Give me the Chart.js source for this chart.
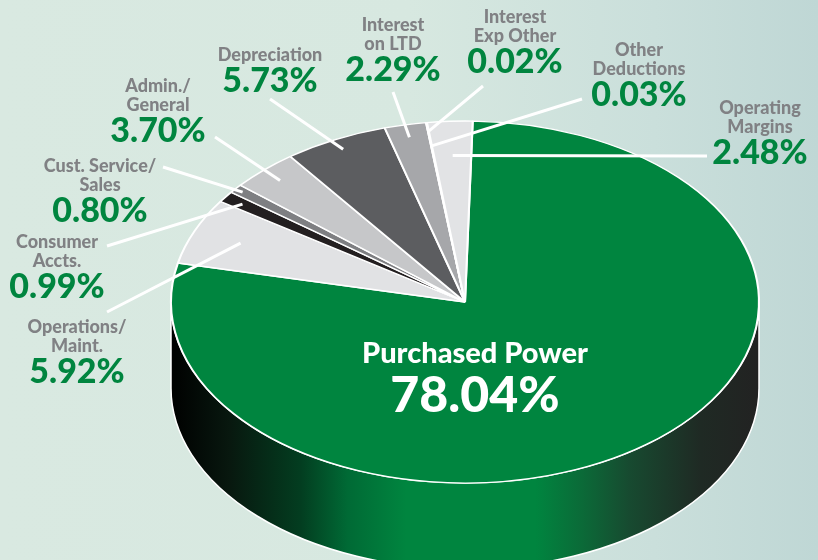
<!DOCTYPE html>
<html>
<head>
<meta charset="utf-8">
<title>Expense breakdown</title>
<script src="https://cdn.jsdelivr.net/npm/chart.js@4.4.0/dist/chart.umd.min.js"></script>
<style>
	html, body { margin: 0; padding: 0; }
	body {
		width: 818px;
		height: 560px;
		overflow: hidden;
		background: linear-gradient(90deg, #d9e9e1 0%, #d7e8e0 50%, #cadfdb 80%, #bfd7d5 100%);
	}
	#wrap { width: 818px; height: 560px; }
</style>
</head>
<body>
<div id="wrap"><canvas id="pie" width="818" height="560"></canvas></div>
<script>
/* Data */
var categories = [
	["Purchased Power"],
	["Operations/", "Maint."],
	["Consumer", "Accts."],
	["Cust. Service/", "Sales"],
	["Admin./", "General"],
	["Depreciation"],
	["Interest", "on LTD"],
	["Interest", "Exp Other"],
	["Other", "Deductions"],
	["Operating", "Margins"]
];
var values = [78.04, 5.92, 0.99, 0.80, 3.70, 5.73, 2.29, 0.02, 0.03, 2.48];
var sliceColors = ['#00853f', '#e1e2e4', '#231f20', '#7e7f82', '#c6c7c9',
	'#5c5d60', '#a6a7aa', '#8a8b8e', '#9d9ea1', '#e2e3e5'];

/* Layout of the tilted pie and its labels */
var tilt = { cx: 465, cy: 302, rx: 294, ry: 181, depth: 86 };
// x, first baseline, leader start x/y, how far into the slice the leader goes
var labelPos = [
	null,
	[77, 333, 107, 312, 0.83],
	[57, 248, 107, 246, 0.93],
	[100, 172, 163, 167, 0.97],
	[158, 92, 215, 137, 0.92],
	[270, 61, 270, 99, 0.94],
	[393, 31, 393, 92, 0.93],
	[515, 23, 483, 86, 0.95],
	[639, 56, 582, 99, 0.87],
	[760, 114, 707, 156, 0.81]
];

var GREEN = '#00853f';
var GRAY = '#808184';

function sideGradient(ctx, color) {
	var g = ctx.createLinearGradient(tilt.cx - tilt.rx, 0, tilt.cx + tilt.rx, 0);
	g.addColorStop(0, '#000000');
	g.addColorStop(0.10, '#08180f');
	g.addColorStop(0.22, '#033d20');
	g.addColorStop(0.30, '#006a35');
	g.addColorStop(0.40, color);
	g.addColorStop(0.62, color);
	g.addColorStop(0.70, '#0b6a38');
	g.addColorStop(0.78, '#174a30');
	g.addColorStop(0.90, '#1f2a24');
	g.addColorStop(1, '#222222');
	return g;
}

function drawSide(chart) {
	var ctx = chart.ctx;
	var arcs = chart.getDatasetMeta(0).data;
	ctx.save();
	for (var i = 0; i < arcs.length; i++) {
		var s = arcs[i].startAngle;
		var e = arcs[i].endAngle;
		for (var k = -1; k <= 1; k++) {
			var a0 = Math.max(s + k * 2 * Math.PI, 0);
			var a1 = Math.min(e + k * 2 * Math.PI, Math.PI);
			if (a1 <= a0) continue;
			ctx.beginPath();
			ctx.ellipse(tilt.cx, tilt.cy, tilt.rx, tilt.ry, 0, a0, a1, false);
			ctx.ellipse(tilt.cx, tilt.cy + tilt.depth, tilt.rx, tilt.ry, 0, a1, a0, true);
			ctx.closePath();
			ctx.fillStyle = sideGradient(ctx, sliceColors[i]);
			ctx.fill();
			ctx.lineWidth = 1.5;
			ctx.strokeStyle = '#ffffff';
			ctx.stroke();
		}
	}
	ctx.restore();
}

function drawLabels(chart) {
	var ctx = chart.ctx;
	var arcs = chart.getDatasetMeta(0).data;
	ctx.save();
	ctx.textAlign = 'center';
	ctx.textBaseline = 'alphabetic';

	for (var i = 1; i < arcs.length; i++) {
		var p = labelPos[i];
		var mid = (arcs[i].startAngle + arcs[i].endAngle) / 2;
		var ex = tilt.cx + Math.cos(mid) * p[4] * tilt.rx;
		var ey = tilt.cy + Math.sin(mid) * p[4] * tilt.ry;

		ctx.beginPath();
		ctx.moveTo(p[2], p[3]);
		ctx.lineTo(ex, ey);
		ctx.lineWidth = 3;
		ctx.strokeStyle = '#ffffff';
		ctx.stroke();

		var lines = categories[i];
		var y = p[1];
		ctx.fillStyle = GRAY;
		ctx.font = '900 18px Lato';
		for (var j = 0; j < lines.length; j++) {
			ctx.fillText(lines[j], p[0], y);
			if (j < lines.length - 1) y += 19;
		}
		ctx.fillStyle = GREEN;
		ctx.font = '900 34px Lato';
		ctx.fillText(values[i].toFixed(2) + '%', p[0], y + 31);
	}

	// big label on the main slice
	ctx.fillStyle = '#ffffff';
	ctx.font = '900 29px Lato';
	ctx.fillText(categories[0][0], 475, 363);
	ctx.font = '900 50px Lato';
	ctx.fillText(values[0].toFixed(2) + '%', 475, 412);
	ctx.restore();
}

var pie3d = {
	id: 'pie3d',
	beforeDatasetsDraw: function(chart) {
		var ctx = chart.ctx;
		var arc = chart.getDatasetMeta(0).data[0];
		drawSide(chart);
		ctx.save();
		ctx.translate(tilt.cx, tilt.cy);
		ctx.scale(tilt.rx / arc.outerRadius, tilt.ry / arc.outerRadius);
		ctx.translate(-arc.x, -arc.y);
	},
	afterDatasetsDraw: function(chart) {
		chart.ctx.restore();
		drawLabels(chart);
	}
};

var pieChart = new Chart(document.getElementById('pie'), {
	type: 'pie',
	data: {
		labels: categories,
		datasets: [{
			data: values,
			backgroundColor: sliceColors,
			borderColor: '#ffffff',
			borderWidth: 2
		}]
	},
	options: {
		responsive: false,
		animation: false,
		events: [],
		rotation: 1.5,
		layout: { padding: 0 },
		plugins: {
			legend: { display: false },
			tooltip: { enabled: false }
		}
	},
	plugins: [pie3d]
});
</script>
</body>
</html>
